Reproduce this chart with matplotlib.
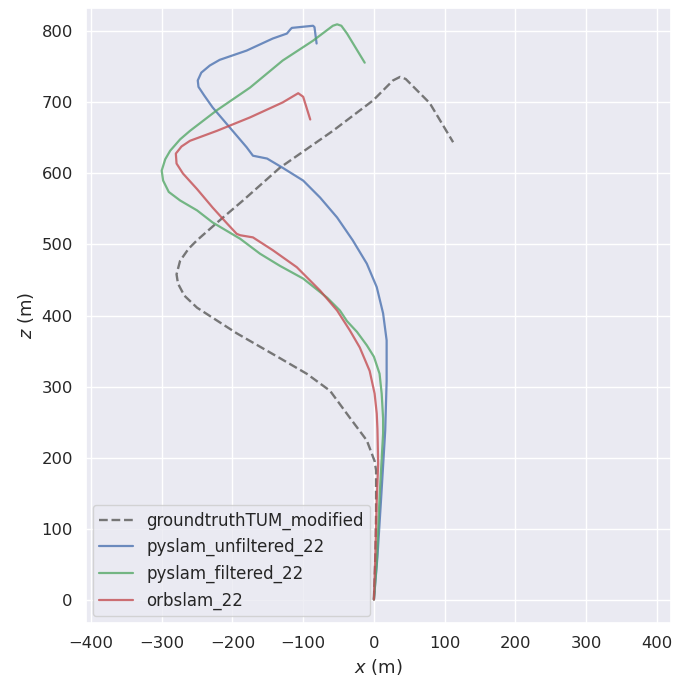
import matplotlib
matplotlib.use("Agg")
import matplotlib.pyplot as plt
import seaborn as sns
import numpy as np

gt_x = [0, 2, 3, 3, 1, -10, -34, -62, -95, -133, -194, -250, -268, -277, -279, -274, -262, -250, -218, -185, -133, -58, -1, 27, 37, 45, 51, 79, 112]
gt_z = [0, 60, 120, 182, 195, 224, 256, 294, 318, 340, 375, 411, 428, 445, 458, 477, 494, 506, 534, 562, 608, 660, 703, 731, 736, 733, 727, 699, 644]

unf_x = [0, 5, 10, 16, 18, 18, 13, 4, -10, -30, -52, -76, -100, -129, -151, -171, -180, -204, -228, -240, -248, -249, -244, -232, -218, -180, -143, -123, -118, -116, -86, -84, -81]
unf_z = [0, 60, 139, 238, 308, 365, 403, 440, 473, 506, 538, 566, 590, 608, 621, 625, 637, 665, 693, 710, 722, 731, 742, 752, 760, 773, 790, 797, 803, 805, 808, 806, 783]

fil_x = [0, 4, 8, 13, 13, 11, 8, 0, -10, -24, -38, -48, -66, -100, -133, -161, -189, -228, -250, -274, -290, -298, -300, -295, -288, -274, -260, -222, -175, -129, -86, -58, -52, -46, -38, -13]
fil_z = [0, 51, 144, 234, 255, 290, 318, 342, 358, 377, 392, 407, 425, 452, 470, 487, 508, 531, 548, 562, 574, 590, 604, 620, 632, 648, 660, 689, 721, 759, 787, 808, 810, 808, 797, 756]

orb_x = [0, 2, 4, 6, 5, 4, 1, -6, -20, -34, -52, -76, -109, -143, -171, -189, -194, -208, -228, -250, -270, -279, -280, -272, -260, -222, -175, -129, -107, -100, -90]
orb_z = [0, 60, 139, 191, 240, 262, 290, 322, 355, 379, 407, 435, 468, 492, 510, 513, 515, 530, 552, 578, 600, 614, 628, 638, 646, 660, 679, 700, 713, 708, 676]

sns.set_theme(style="darkgrid", font_scale=1.07)
plt.rcParams['font.family'] = ['DejaVu Sans']

fig = plt.figure(figsize=(6.73, 6.80), dpi=100)
ax = fig.add_axes([86/673, (680-623)/680, 585/673, 615/680])

ax.plot(gt_x, gt_z, linestyle='--', color='dimgray', alpha=0.9, lw=1.7, label='groundtruthTUM_modified')
ax.plot(unf_x, unf_z, color='#4C72B0', alpha=0.8, lw=1.6, label='pyslam_unfiltered_22')
ax.plot(fil_x, fil_z, color='#55A868', alpha=0.8, lw=1.6, label='pyslam_filtered_22')
ax.plot(orb_x, orb_z, color='#C44E52', alpha=0.8, lw=1.6, label='orbslam_22')

ax.set_xlim(-407, 420)
ax.set_ylim(-33, 833)
ax.set_aspect('equal', adjustable='datalim')
ax.set_xticks([-400, -300, -200, -100, 0, 100, 200, 300, 400])
ax.set_yticks([0, 100, 200, 300, 400, 500, 600, 700, 800])
ax.set_xlabel('$x$ (m)')
ax.set_ylabel('$z$ (m)')
ax.legend(loc='lower left', fontsize=12, borderaxespad=0.4)

fig.savefig('out.png', dpi=100)
